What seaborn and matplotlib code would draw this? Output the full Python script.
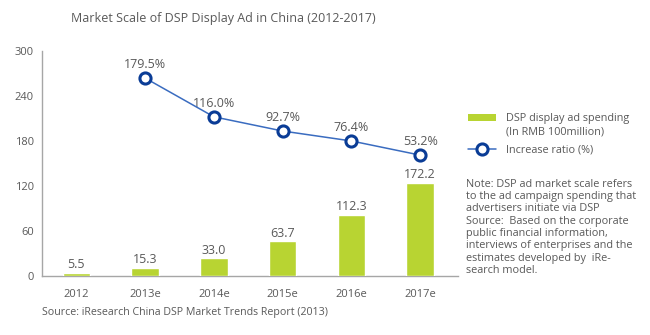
import matplotlib
matplotlib.use("Agg")
import matplotlib.pyplot as plt
import seaborn as sns
import pandas as pd
from matplotlib.lines import Line2D
from matplotlib.patches import Patch

years = ["2012", "2013e", "2014e", "2015e", "2016e", "2017e"]
spending = [5.5, 15.3, 33.0, 63.7, 112.3, 172.2]
ratio_years = ["2013e", "2014e", "2015e", "2016e", "2017e"]
ratio = [179.5, 116.0, 92.7, 76.4, 53.2]
yticks = [0, 60, 120, 180, 240, 300]

sns.set_theme(style="white")
plt.rcParams['font.family'] = ['Open Sans', 'DejaVu Sans']

GREY = "#595959"
BAR = "#B8D432"
LINE = "#3A6CC0"
MARK = "#0A3C96"

fig = plt.figure(figsize=(6.5, 3.35), dpi=100)
ax = fig.add_axes([0.0646, 0.176, 0.64, 0.672])
ax2 = ax.twinx()
ax3 = ax.twinx()

df_bar = pd.DataFrame({"year": years, "spending": spending})
sns.barplot(data=df_bar, x="year", y="spending", ax=ax2, color=BAR,
            width=0.4, saturation=1, order=years)
ax2.set_ylim(0, 415)
for i, v in enumerate(spending):
    ax2.text(i, v + 3, f"{v:.1f}", ha="center", va="bottom", fontsize=9, color=GREY)

pos = [years.index(y) for y in ratio_years]
ax3.plot(pos, ratio, color=LINE, lw=1.1, marker="o", ms=8,
         mfc="white", mec=MARK, mew=2.2, zorder=5)
ax3.set_ylim(-145, 224)
for x, v in zip(pos, ratio):
    ax3.text(x, v + 11, f"{v:.1f}%", ha="center", va="bottom", fontsize=9, color=GREY)

for a in (ax, ax2, ax3):
    a.set_xlim(-0.5, 5.55)
ax.set_ylim(0, 300)
ax.set_yticks(yticks)
ax.set_yticklabels([str(t) for t in yticks], fontsize=8, color=GREY)
ax.tick_params(axis="y", length=0, pad=6)
ax.set_xticks(range(len(years)))
ax.set_xticklabels(years, fontsize=8, color=GREY)
ax.tick_params(axis="x", length=0, pad=9)
ax2.set_xlabel("")
ax2.set_ylabel("")
for a in (ax2, ax3):
    a.set_yticks([])
    a.set_ylabel("")
    for s in a.spines.values():
        s.set_visible(False)
for s in ("top", "right"):
    ax.spines[s].set_visible(False)
ax.spines["left"].set_color("#A6A6A6")
ax.spines["bottom"].set_color("#A6A6A6")
ax.spines["left"].set_linewidth(1.0)
ax.spines["bottom"].set_linewidth(1.0)

fig.text(0.343, 0.945, "Market Scale of DSP Display Ad in China (2012-2017)",
         ha="center", va="center", fontsize=9, color=GREY)

# legend
handles = [Patch(facecolor=BAR, edgecolor="none"),
           Line2D([0], [0], color=LINE, lw=1.1, marker="o", ms=8, mfc="white",
                  mec=MARK, mew=2.2)]
labels = ["DSP display ad spending", "Increase ratio (%)"]
fig.legend(handles, labels, loc="upper left", bbox_to_anchor=(0.705, 0.691),
           frameon=False, fontsize=7.8, labelcolor=GREY, handlelength=2.6,
           handleheight=0.7, labelspacing=1.88, handletextpad=0.9)
fig.text(0.7785, 0.607, "(In RMB 100million)", ha="left", va="center",
         fontsize=7.8, color=GREY)

note = ("Note: DSP ad market scale refers\n"
        "to the ad campaign spending that\n"
        "advertisers initiate via DSP\n"
        "Source:  Based on the corporate\n"
        "public financial information,\n"
        "interviews of enterprises and the\n"
        "estimates developed by  iRe-\n"
        "search model.")
fig.text(0.717, 0.467, note, ha="left", va="top", fontsize=7.8, color=GREY,
         linespacing=1.17)

fig.text(0.065, 0.068, "Source: iResearch China DSP Market Trends Report (2013)",
         ha="left", va="center", fontsize=7.7, color=GREY)

fig.savefig("out.png", dpi=100)
